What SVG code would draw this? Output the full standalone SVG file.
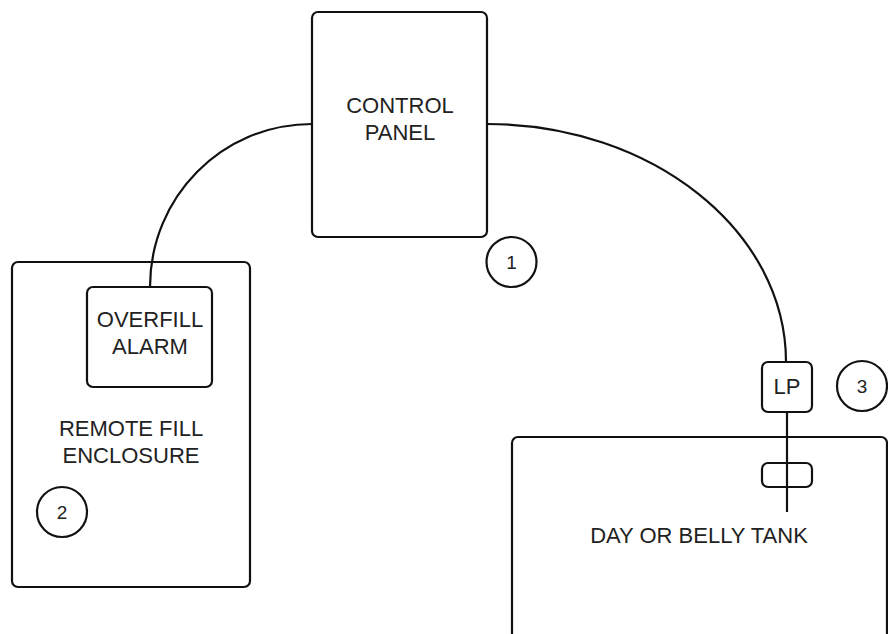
<svg xmlns="http://www.w3.org/2000/svg" width="888" height="634" viewBox="0 0 888 634">
<style>
.box{fill:#fff;stroke:#111;stroke-width:2.2}
.wire{fill:none;stroke:#111;stroke-width:2.2}
.lbl{font-family:"Liberation Sans",Arial,sans-serif;font-size:22px;fill:#222;text-anchor:middle}
.num{font-family:"Liberation Sans",Arial,sans-serif;font-size:19px;fill:#222;text-anchor:middle}
</style>
<rect width="888" height="634" fill="#fff"/>
<g id="remote-fill-enclosure">
<rect class="box" x="12" y="262" width="238" height="325" rx="6"/>
<text class="lbl" x="131" y="436">REMOTE FILL</text>
<text class="lbl" x="131" y="463">ENCLOSURE</text>
</g>
<g id="day-tank">
<rect class="box" x="512" y="437" width="375" height="220" rx="6"/>
<text class="lbl" x="699" y="543">DAY OR BELLY TANK</text>
</g>
<g id="connectors">
<path class="wire" d="M312,124 C222,124 150,197 150,287"/>
<path class="wire" d="M487,124 C652,124 786,231 786,362"/>
<path class="wire" d="M787,412 L787,512"/>
</g>
<g id="control-panel">
<rect class="box" x="312" y="12" width="175" height="225" rx="6"/>
<text class="lbl" x="400" y="113">CONTROL</text>
<text class="lbl" x="400" y="140">PANEL</text>
</g>
<g id="overfill-alarm">
<rect class="box" x="87" y="287" width="125" height="100" rx="6"/>
<text class="lbl" x="150" y="327">OVERFILL</text>
<text class="lbl" x="150" y="354">ALARM</text>
</g>
<g id="lp">
<rect class="box" x="762" y="362" width="50" height="50" rx="6"/>
<text class="lbl" x="787" y="394">LP</text>
</g>
<g id="float">
<rect class="wire" x="762" y="463" width="50" height="24" rx="6"/>
</g>
<g id="tag-1">
<circle class="box" cx="511.5" cy="262" r="25"/>
<text class="num" x="511.5" y="268.5">1</text>
</g>
<g id="tag-2">
<circle class="box" cx="62" cy="512" r="25"/>
<text class="num" x="62" y="518.5">2</text>
</g>
<g id="tag-3">
<circle class="box" cx="862" cy="386" r="25"/>
<text class="num" x="862" y="392.5">3</text>
</g>
</svg>
